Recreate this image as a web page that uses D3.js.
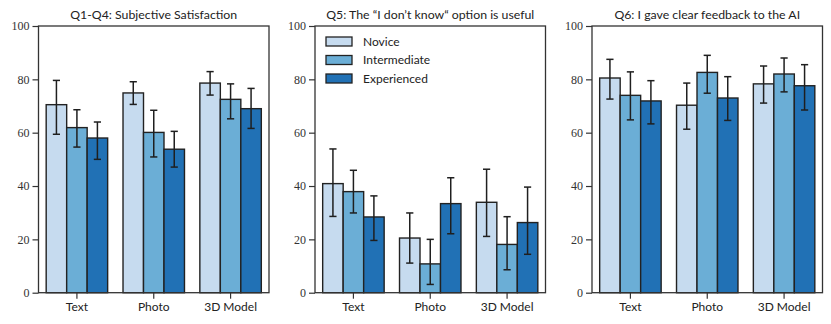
<!DOCTYPE html>
<html>
<head>
<meta charset="utf-8">
<script src="https://cdn.jsdelivr.net/npm/d3@7"></script>
<style>
  html, body { margin: 0; padding: 0; background: #fff; }
  svg { display: block; }
</style>
</head>
<body>
<svg id="chart" width="831" height="324"></svg>
<script>
// ---- data ----
const categories = ["Text", "Photo", "3D Model"];
const seriesNames = ["Novice", "Intermediate", "Experienced"];
const seriesColors = ["#c6dbef", "#6baed6", "#2171b5"];
const panelTitles = [
  "Q1-Q4: Subjective Satisfaction",
  "Q5: The \u201CI don\u2019t know\u201C option is useful",
  "Q6: I gave clear feedback to the AI"
];
const yTicks = [0, 20, 40, 60, 80, 100];

// values per series (Novice, Intermediate, Experienced), each over categories
const q14Means = [[70.5, 74.9, 78.6], [61.9, 60.1, 72.5], [58.0, 53.8, 69.0]];
const q14Low   = [[59.4, 70.6, 74.1], [54.6, 50.9, 65.2], [50.0, 47.1, 61.6]];
const q14High  = [[79.6, 79.1, 82.9], [68.6, 68.4, 78.3], [64.0, 60.5, 76.6]];
const q5Means  = [[40.9, 20.5, 33.9], [37.9, 10.8, 18.1], [28.4, 33.4, 26.3]];
const q5Low    = [[28.6, 11.1, 21.1], [29.9, 3.1, 8.6],   [19.6, 22.1, 14.4]];
const q5High   = [[53.9, 29.9, 46.3], [45.9, 20.0, 28.5], [36.3, 43.1, 39.6]];
const q6Means  = [[80.5, 70.3, 78.3], [74.0, 82.6, 82.0], [71.9, 73.0, 77.6]];
const q6Low    = [[72.6, 61.3, 71.1], [64.8, 74.8, 75.3], [63.3, 64.6, 68.5]];
const q6High   = [[87.5, 78.6, 85.0], [82.8, 89.0, 88.0], [79.5, 81.0, 85.5]];

const panelMeans = [q14Means, q5Means, q6Means];
const panelLow = [q14Low, q5Low, q6Low];
const panelHigh = [q14High, q5High, q6High];

// ---- layout ----
const panelLefts = [38.5, 315, 592];
const panelW = 230.5;
const plotTop = 26, plotBottom = 292.7;
const sansFont = "Lato, 'Open Sans', sans-serif";
const serifFont = "'Liberation Serif', 'DejaVu Serif', serif";
const ink = "#222";

const svg = d3.select("#chart");
const plotH = plotBottom - plotTop;
const y = d3.scaleLinear().domain([0, 100]).range([plotH, 0]);

panelLefts.forEach((left, p) => {
  const g = svg.append("g").attr("transform", `translate(${left},${plotTop})`);

  const x = d3.scaleBand().domain(categories).range([0, panelW])
    .paddingInner(0.2).paddingOuter(0.1);
  const xs = d3.scaleBand().domain(d3.range(seriesNames.length)).range([0, x.bandwidth()]);

  // bars
  seriesNames.forEach((s, j) => {
    const means = panelMeans[p][j];
    g.append("g").selectAll("rect").data(categories).join("rect")
      .attr("x", (c) => x(c) + xs(j))
      .attr("y", (c, i) => y(means[i]))
      .attr("width", xs.bandwidth())
      .attr("height", (c, i) => plotH - y(means[i]))
      .attr("fill", seriesColors[j])
      .attr("stroke", ink)
      .attr("stroke-width", 1.4);
  });

  // error bars
  seriesNames.forEach((s, j) => {
    const lows = panelLow[p][j];
    const highs = panelHigh[p][j];
    const eg = g.append("g").attr("stroke", "#1f1f1f").attr("stroke-width", 1.5).attr("fill", "none");
    categories.forEach((c, i) => {
      const cx = x(c) + xs(j) + xs.bandwidth() / 2;
      const y1 = y(highs[i]), y0 = y(lows[i]);
      eg.append("line").attr("x1", cx).attr("x2", cx).attr("y1", y1).attr("y2", y0);
      eg.append("line").attr("x1", cx - 3.6).attr("x2", cx + 3.6).attr("y1", y1).attr("y2", y1);
      eg.append("line").attr("x1", cx - 3.6).attr("x2", cx + 3.6).attr("y1", y0).attr("y2", y0);
    });
  });

  // frame
  g.append("rect").attr("x", 0).attr("y", 0).attr("width", panelW).attr("height", plotH)
    .attr("fill", "none").attr("stroke", "#333").attr("stroke-width", 1.3);

  // y axis
  const ya = g.append("g").call(d3.axisLeft(y).tickValues(yTicks).tickSize(6).tickPadding(3));
  ya.select(".domain").remove();
  ya.selectAll(".tick line").attr("stroke", "#333").attr("stroke-width", 1.2);
  ya.selectAll(".tick text").attr("font-family", serifFont).attr("font-size", 12).attr("fill", "#333");

  // x axis
  const xa = g.append("g").attr("transform", `translate(0,${plotH})`)
    .call(d3.axisBottom(x).tickSize(6).tickPadding(3.5));
  xa.select(".domain").remove();
  xa.selectAll(".tick line").attr("stroke", "#333").attr("stroke-width", 1.2);
  xa.selectAll(".tick text").attr("font-family", sansFont).attr("font-size", 12).attr("fill", "#222");

  // title
  g.append("text").attr("x", panelW / 2).attr("y", -7.5)
    .attr("text-anchor", "middle").attr("font-family", sansFont).attr("font-size", 12.3)
    .attr("fill", "#222").text(panelTitles[p]);

  // legend in middle panel
  if (p === 1) {
    const lg = g.append("g").attr("transform", "translate(11,11)");
    seriesNames.forEach((s, j) => {
      const row = lg.append("g").attr("transform", `translate(0,${j * 18.5})`);
      row.append("rect").attr("x", 0).attr("y", 0).attr("width", 26).attr("height", 9)
        .attr("fill", seriesColors[j]).attr("stroke", ink).attr("stroke-width", 1.3);
      row.append("text").attr("x", 37).attr("y", 4.5).attr("dy", "0.35em")
        .attr("font-family", sansFont).attr("font-size", 12).attr("fill", "#222").text(s);
    });
  }
});
</script>
</body>
</html>
